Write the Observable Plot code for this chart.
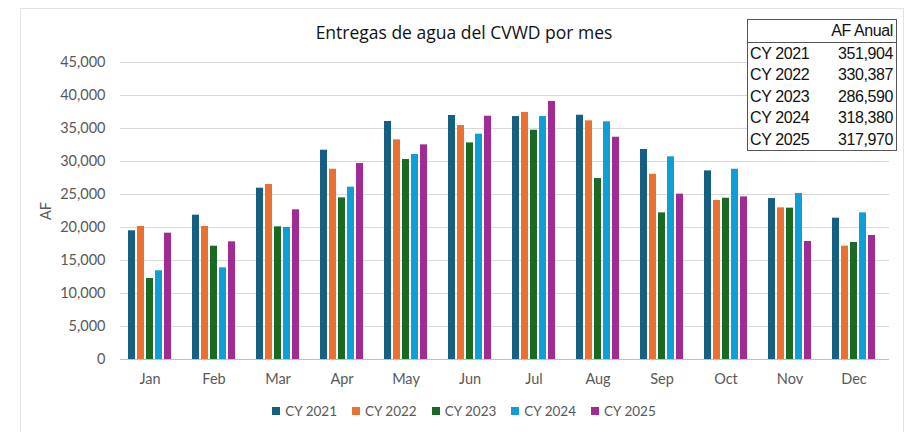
<!DOCTYPE html>
<html><head><meta charset="utf-8">
<script src="https://cdn.jsdelivr.net/npm/d3@7"></script>
<script src="https://cdn.jsdelivr.net/npm/@observablehq/plot@0.6"></script>
<style>
body{margin:0;background:#fff;}
#wrap{position:relative;width:906px;height:432px;overflow:hidden;font-family:Lato,"Open Sans",sans-serif;background:#fff;}
.layer{position:absolute;left:0;top:0;}
#frame{position:absolute;left:20px;top:8px;width:884px;height:430px;border:1px solid #e3e3e3;box-sizing:border-box;}
#title{position:absolute;left:0;width:928px;top:21px;text-align:center;font-size:17.5px;line-height:22px;color:#111;font-family:"Open Sans",Lato,sans-serif;}
#legend{position:absolute;left:0;width:928px;top:403px;display:flex;justify-content:center;gap:15px;font-size:13.5px;color:#595959;line-height:16px;}
#legend .it{display:flex;align-items:center;gap:5px;}
#legend .sw{width:8px;height:8px;display:inline-block;}
#tbl{position:absolute;left:747px;top:19px;width:150px;border:1.5px solid #555;border-collapse:collapse;font-family:"Liberation Sans Narrow","Liberation Sans",sans-serif;font-size:16px;letter-spacing:-0.4px;color:#111;background:#fff;table-layout:fixed;}
#tbl td,#tbl th{padding:0 3px;height:21.5px;line-height:21px;font-weight:normal;white-space:nowrap;}
#tbl th{text-align:right;border-bottom:1px solid #555;}
#tbl td.v{text-align:right;}
#tbl td.k{text-align:left;padding-left:2px;}
</style></head>
<body>
<div id="wrap"><div id="frame"></div></div>
<script>
const months = ["Jan","Feb","Mar","Apr","May","Jun","Jul","Aug","Sep","Oct","Nov","Dec"];
const seriesNames = ["CY 2021","CY 2022","CY 2023","CY 2024","CY 2025"];
const seriesColors = ["#156082","#E97132","#196B24","#0F9ED5","#A02B93"];
const cy2021 = [19500,21870,25960,31710,36060,36970,36810,37010,31820,28580,24390,21410];
const cy2022 = [20150,20150,26510,28830,33280,35450,37420,36160,28070,24090,22980,17170];
const cy2023 = [12270,17170,20100,24490,30300,32820,34740,27420,22220,24440,22930,17730];
const cy2024 = [13440,13890,20000,26110,31060,34140,36810,36010,30710,28830,25150,22220];
const cy2025 = [19140,17830,22680,29690,32520,36860,39090,33680,25050,24640,17880,18790];
const annualTotals = ["351,904","330,387","286,590","318,380","317,970"];
const yTicks = [0,5000,10000,15000,20000,25000,30000,35000,40000,45000];
const titleText = "Entregas de agua del CVWD por mes";
const tableHeader = "AF Anual";
const yLabel = "AF";

const seriesValues = [cy2021,cy2022,cy2023,cy2024,cy2025];
const data = [];
months.forEach((m,i)=>seriesNames.forEach((s,j)=>data.push({month:m,series:s,value:seriesValues[j][i]})));

const W = 906, H = 432;
const wrap = document.getElementById("wrap");

// background: grid + y axis
const bg = Plot.plot({
  width:W, height:H, marginLeft:120, marginRight:17, marginTop:62, marginBottom:73,
  style:{background:"transparent", fontFamily:"Lato, 'Open Sans', sans-serif", fontSize:"14.5px", color:"#595959"},
  y:{domain:[0,45000]},
  marks:[
    Plot.ruleY(yTicks.filter(d=>d>0), {stroke:"#d9d9d9", strokeWidth:1.2}),
    Plot.ruleY([0], {stroke:"#bfbfbf", strokeWidth:1.2}),
    Plot.axisY({ticks:yTicks, tickSize:0, tickPadding:15, tickFormat:d3.format(","), fill:"#595959",
      label:yLabel, labelAnchor:"center", labelArrow:"none", labelOffset:80})
  ]
});
bg.classList.add("layer");
wrap.appendChild(bg);

// bars
const fg = Plot.plot({
  width:W, height:H, marginLeft:115, marginRight:17, marginTop:62, marginBottom:73,
  style:{background:"transparent", fontFamily:"Lato, 'Open Sans', sans-serif", fontSize:"14.5px", color:"#595959"},
  fx:{domain:months, paddingInner:0.26, paddingOuter:0.13, label:null},
  x:{domain:seriesNames, paddingInner:0.2, paddingOuter:0, axis:null},
  y:{domain:[0,45000], axis:null},
  color:{domain:seriesNames, range:seriesColors},
  marks:[
    Plot.axisFx({anchor:"bottom", tickSize:0, tickPadding:14, label:null, fill:"#595959"}),
    Plot.barY(data, {fx:"month", x:"series", y:"value", fill:"series"})
  ]
});
fg.classList.add("layer");
wrap.appendChild(fg);

// title
const t = document.createElement("div"); t.id="title"; t.textContent=titleText; wrap.appendChild(t);

// legend
const lg = document.createElement("div"); lg.id="legend";
seriesNames.forEach((s,i)=>{
  const it=document.createElement("span"); it.className="it";
  const sw=document.createElement("span"); sw.className="sw"; sw.style.background=seriesColors[i];
  const tx=document.createElement("span"); tx.textContent=s;
  it.appendChild(sw); it.appendChild(tx); lg.appendChild(it);
});
wrap.appendChild(lg);

// table
const tbl = document.createElement("table"); tbl.id="tbl";
const hr = document.createElement("tr");
const th = document.createElement("th"); th.colSpan=2; th.textContent=tableHeader; hr.appendChild(th); tbl.appendChild(hr);
seriesNames.forEach((s,i)=>{
  const tr=document.createElement("tr");
  const a=document.createElement("td"); a.className="k"; a.textContent=s;
  const b=document.createElement("td"); b.className="v"; b.textContent=annualTotals[i];
  tr.appendChild(a); tr.appendChild(b); tbl.appendChild(tr);
});
wrap.appendChild(tbl);
</script>
</body></html>
